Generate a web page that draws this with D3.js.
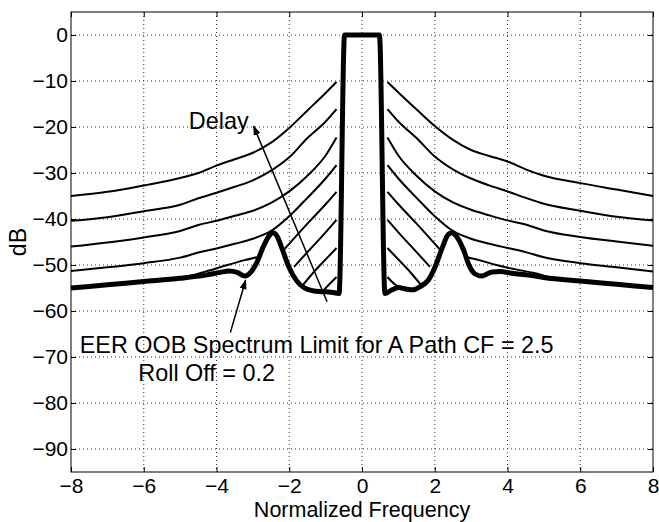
<!DOCTYPE html>
<html>
<head>
<meta charset="utf-8">
<script src="https://cdn.jsdelivr.net/npm/d3@7"></script>
<style>
  body { margin: 0; background: #fff; }
  svg { display: block; font-family: "Liberation Sans", Arial, Helvetica, sans-serif; }
  .grid line { stroke: #333; stroke-width: 1; stroke-dasharray: 1,3; }
  .tick text { font-size: 21px; fill: #000; }
</style>
</head>
<body>
<div id="chart"></div>
<script>
// spectrum plot: EER out-of-band limit (thick) and spectra for growing delay (thin)

var xTicks = [-8, -6, -4, -2, 0, 2, 4, 6, 8];
var yTicks = [0, -10, -20, -30, -40, -50, -60, -70, -80, -90];

// mask / limit curve, [normalized frequency, dB]
var limitCurve = [
  [-8,-55],[-7,-54.3],[-6,-53.6],[-5,-52.9],[-4.3,-52.2],[-3.9,-51.6],[-3.65,-51.3],
  [-3.43,-51.6],[-3.22,-52.4],[-3.05,-51.5],[-2.9,-49.6],[-2.7,-45.8],[-2.55,-43.6],
  [-2.45,-43],[-2.33,-43.8],[-2.2,-46.4],[-2.0,-50.6],[-1.8,-53.4],[-1.6,-54.9],
  [-1.35,-55.6],[-1.1,-55.8],[-0.85,-55.9],[-0.63,-56.2],[-0.48,0],
  [0.48,0],[0.63,-56.2],[0.8,-55.5],[1.0,-54.9],[1.2,-55.2],[1.4,-55.4],[1.6,-54.7],
  [1.83,-53.2],[2.0,-50.6],[2.2,-46.4],[2.35,-43.6],[2.47,-43],[2.6,-43.8],[2.79,-46.7],
  [2.95,-50.2],[3.1,-51.9],[3.3,-52.4],[3.57,-51.5],[3.8,-51.4],[4.12,-51.8],[4.58,-52.2],
  [5,-52.7],[6,-53.5],[7,-54.2],[8,-54.9]
];

// spectra for increasing delay (null = hidden behind the limit / passband)
var delay1 = [
  [-8,-35],[-7,-34.1],[-6,-32.7],[-5,-31.1],[-4.5,-30],[-4,-28.4],[-3.5,-27],[-3,-25.6],
  [-2.5,-23.4],[-2,-20.2],[-1.5,-16.4],[-1,-12.6],[-0.7,-10.2], null,
  [0.7,-10.2],[1,-12.5],[1.5,-16.2],[2,-19.8],[2.5,-22.8],[3,-25],[3.5,-26.3],[4,-27.5],
  [4.5,-29.2],[5,-30.6],[6,-32.2],[7,-33.6],[8,-35]
];
var delay2 = [
  [-8,-40.4],[-7,-39.6],[-6,-38.3],[-5,-36.9],[-4.5,-35.5],[-4,-34.3],[-3.5,-33],[-3,-31.6],
  [-2.5,-29.5],[-2,-26.6],[-1.5,-22.4],[-1,-18.8],[-0.7,-16.1], null,
  [0.7,-16.1],[1,-18.8],[1.5,-22.4],[2,-26.4],[2.5,-29.2],[3,-31.2],[3.5,-32.7],[4,-34],
  [4.5,-35.4],[5,-36.7],[6,-38.2],[7,-39.5],[8,-40.3]
];
var delay3 = [
  [-8,-46],[-7,-45.1],[-6,-44],[-5,-42.6],[-4.5,-41.3],[-4,-40.4],[-3.5,-39.3],[-3,-38.2],
  [-2.5,-36.5],[-2,-34],[-1.5,-30.6],[-1,-26.2],[-0.7,-22.3], null,
  [0.7,-22.3],[1,-26.2],[1.5,-30.6],[2,-34],[2.5,-36.4],[3,-38],[3.5,-39.2],[4,-40.3],
  [4.5,-41.2],[5,-42.5],[6,-43.9],[7,-44.9],[8,-45.8]
];
var delay4 = [
  [-8,-51.3],[-7,-50.5],[-6,-49.6],[-5,-48.4],[-4.5,-47.3],[-4,-46.4],[-3.5,-45.4],[-3,-44.3],
  [-2.5,-42.6],[-2,-39.4],[-1.5,-35.4],[-1,-31.2],[-0.7,-28.3], null,
  [0.7,-28.3],[1,-31.2],[1.5,-35.4],[2,-39.4],[2.5,-42.6],[3,-44.3],[3.5,-45.4],[4,-46.3],
  [4.5,-47.2],[5,-48.3],[6,-49.6],[7,-50.5],[8,-51.4]
];
var delay5 = [
  [-5.2,-53.1],[-4.7,-52.3],[-4.2,-51.2],[-3.7,-50],[-3.25,-49],[-2.89,-48.3], null,
  [-2.16,-46.8],[-1.5,-41],[-1,-36.8],[-0.7,-34.1], null,
  [0.7,-34.1],[1,-36.8],[1.5,-41],[2.16,-46.8], null,
  [2.89,-48.3],[3.25,-49],[3.7,-50],[4.2,-50.9],[4.7,-51.7],[5.2,-52.8]
];
var delay6 = [
  [-1.87,-50.4],[-1.5,-47.2],[-1,-42.9],[-0.7,-40.2], null,
  [0.7,-40.2],[1,-42.9],[1.5,-47.2],[1.87,-50.4]
];
var delay7 = [
  [-1.65,-54.6],[-1.3,-51.3],[-1,-48.8],[-0.7,-46.3], null,
  [0.7,-46.3],[1,-48.8],[1.3,-51.3],[1.65,-54.6]
];
var delay8 = [
  [-1.08,-55.7],[-0.9,-54.2],[-0.7,-52.6], null,
  [0.7,-52.6],[0.9,-54.2],[1.08,-55.1]
];
var delayCurves = [delay1, delay2, delay3, delay4, delay5, delay6, delay7, delay8];

var W = 659, H = 522,
    margin = { top: 12, right: 6, bottom: 50, left: 71 },
    w = W - margin.left - margin.right,
    h = H - margin.top - margin.bottom;

var svg = d3.select("#chart").append("svg")
    .attr("width", W)
    .attr("height", H);

var g = svg.append("g")
    .attr("transform", "translate(" + margin.left + "," + margin.top + ")");

var x = d3.scaleLinear().domain([-8, 8]).range([0, w]);
var y = d3.scaleLinear().domain([-95, 5]).range([h, 0]);

// dotted grid
var grid = g.append("g").attr("class", "grid");
grid.selectAll("line.v").data(xTicks.slice(1, -1)).enter().append("line")
    .attr("x1", function(d) { return x(d); }).attr("x2", function(d) { return x(d); })
    .attr("y1", 0).attr("y2", h);
grid.selectAll("line.h").data(yTicks).enter().append("line")
    .attr("x1", 0).attr("x2", w)
    .attr("y1", function(d) { return y(d); }).attr("y2", function(d) { return y(d); });

// axes with inward ticks, like matlab
var fmt = d3.format("");
g.append("g").attr("transform", "translate(0," + h + ")")
    .call(d3.axisBottom(x).tickValues(xTicks).tickFormat(fmt).tickSizeInner(-5).tickSizeOuter(0).tickPadding(6));
g.append("g")
    .call(d3.axisTop(x).tickValues(xTicks).tickFormat("").tickSizeInner(-5).tickSizeOuter(0));
g.append("g")
    .call(d3.axisLeft(y).tickValues(yTicks).tickFormat(fmt).tickSizeInner(-5).tickSizeOuter(0).tickPadding(3));
g.append("g").attr("transform", "translate(" + w + ",0)")
    .call(d3.axisRight(y).tickValues(yTicks).tickFormat("").tickSizeInner(-5).tickSizeOuter(0));
g.selectAll(".domain").remove();
g.selectAll(".tick line").attr("stroke", "#000");
g.selectAll(".tick text").attr("font-family", null).attr("font-size", null);

g.append("rect")
    .attr("width", w).attr("height", h)
    .attr("fill", "none").attr("stroke", "#000").attr("stroke-width", 1);

var line = d3.line()
    .defined(function(d) { return d; })
    .x(function(d) { return x(d[0]); })
    .y(function(d) { return y(d[1]); })
    .curve(d3.curveMonotoneX);

g.selectAll("path.delay").data(delayCurves).enter().append("path")
    .attr("class", "delay")
    .attr("d", line)
    .attr("fill", "none")
    .attr("stroke", "#000")
    .attr("stroke-width", 2);

g.append("path")
    .attr("d", line(limitCurve))
    .attr("fill", "none")
    .attr("stroke", "#000")
    .attr("stroke-width", 5)
    .attr("stroke-linejoin", "round");

// arrows
var defs = svg.append("defs");
defs.append("marker")
    .attr("id", "head")
    .attr("markerUnits", "userSpaceOnUse")
    .attr("viewBox", "0 -4 10 8")
    .attr("refX", 9).attr("refY", 0)
    .attr("markerWidth", 10).attr("markerHeight", 8)
    .attr("orient", "auto")
  .append("path")
    .attr("d", "M0,-3.5L10,0L0,3.5Z")
    .attr("fill", "#000");

g.append("line")
    .attr("x1", x(-0.96)).attr("y1", y(-58))
    .attr("x2", x(-2.98)).attr("y2", y(-19.8))
    .attr("stroke", "#000").attr("stroke-width", 1.5)
    .attr("marker-end", "url(#head)");

g.append("line")
    .attr("x1", x(-3.62)).attr("y1", y(-64.7))
    .attr("x2", x(-3.2)).attr("y2", y(-53.3))
    .attr("stroke", "#000").attr("stroke-width", 1.5)
    .attr("marker-end", "url(#head)");

// annotation text
var noteSize = 23.4;
g.append("text")
    .attr("x", x(-4.76)).attr("y", y(-20.5))
    .attr("font-size", noteSize)
    .text("Delay");
g.append("text")
    .attr("x", x(-7.76)).attr("y", y(-69.2))
    .attr("font-size", noteSize)
    .text("EER OOB Spectrum Limit for A Path CF = 2.5");
g.append("text")
    .attr("x", x(-6.15)).attr("y", y(-75.2))
    .attr("font-size", noteSize)
    .text("Roll Off = 0.2");

// axis labels
svg.append("text")
    .attr("x", margin.left + w / 2).attr("y", 517)
    .attr("text-anchor", "middle")
    .attr("font-size", 21.5)
    .text("Normalized Frequency");
svg.append("text")
    .attr("transform", "translate(26," + (margin.top + h / 2) + ") rotate(-90)")
    .attr("text-anchor", "middle")
    .attr("font-size", 23.2)
    .text("dB");
</script>
</body>
</html>
